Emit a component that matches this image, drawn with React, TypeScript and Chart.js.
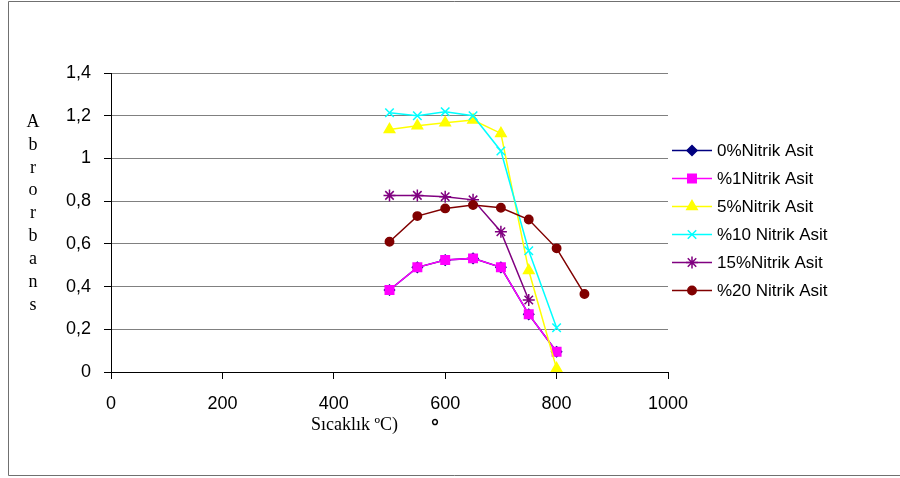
import React, { useEffect, useRef } from 'react';
import { Chart, registerables } from 'chart.js';
import { drawPoint } from 'chart.js/helpers';

Chart.register(...registerables);

const temperatures = [500, 550, 600, 650, 700, 750, 800];
const temperatures15 = [500, 550, 600, 650, 700, 750];
const temperatures20 = [500, 550, 600, 650, 700, 750, 800, 850];

const nitric0 = [0.384, 0.49, 0.524, 0.532, 0.49, 0.27, 0.095];
const nitric1 = [0.384, 0.49, 0.524, 0.532, 0.49, 0.27, 0.095];
const nitric5 = [1.135, 1.153, 1.167, 1.18, 1.117, 0.475, 0.016];
const nitric10 = [1.214, 1.2, 1.219, 1.2, 1.035, 0.568, 0.207];
const nitric15 = [0.827, 0.827, 0.821, 0.806, 0.657, 0.337];
const nitric20 = [0.61, 0.73, 0.766, 0.782, 0.769, 0.714, 0.579, 0.365];

const seriesLabels = [
  '0%Nitrik Asit',
  '%1Nitrik Asit',
  '5%Nitrik Asit',
  '%10 Nitrik Asit',
  '15%Nitrik Asit',
  '%20 Nitrik Asit',
];
const seriesColors = ['#000080', '#FF00FF', '#FFFF00', '#00FFFF', '#800080', '#800000'];
const seriesMarkers = ['rectRot', 'rect', 'triangle', 'crossRot', 'star', 'circle'];

const xTicks = [0, 200, 400, 600, 800, 1000];
const yTicks = [0, 0.2, 0.4, 0.6, 0.8, 1, 1.2, 1.4];
const yTickLabels = ['0', '0,2', '0,4', '0,6', '0,8', '1', '1,2', '1,4'];
const yTitleLetters = ['A', 'b', 'r', 'o', 'r', 'b', 'a', 'n', 's'];
const xTitle = 'Sıcaklık ºC)';
const xTitleExtra = '°';

const SANS = '"Liberation Sans", Arial, sans-serif';
const SERIF = '"Liberation Serif", "Times New Roman", serif';

function toPoints(xs: number[], ys: number[]) {
  return xs.map((x, i) => ({ x, y: ys[i] }));
}

const markerRadius: Record<string, number> = {
  rectRot: 5,
  rect: 6,
  triangle: 6,
  crossRot: 6,
  star: 6,
  circle: 4.2,
};

const decorPlugin = {
  id: 'decor',
  afterDraw(chart: any) {
    const ctx = chart.ctx as CanvasRenderingContext2D;
    ctx.save();
    // outer frame
    ctx.strokeStyle = '#707070';
    ctx.lineWidth = 1;
    ctx.beginPath();
    ctx.moveTo(1000, 1.5);
    ctx.lineTo(8.5, 1.5);
    ctx.lineTo(8.5, 475.5);
    ctx.lineTo(1000, 475.5);
    ctx.stroke();

    // y title, stacked letters
    ctx.fillStyle = '#000';
    ctx.font = `18px ${SERIF}`;
    ctx.textAlign = 'center';
    ctx.textBaseline = 'middle';
    yTitleLetters.forEach((ch, i) => {
      ctx.fillText(ch, 33, 122 + i * 22.9);
    });

    // x title
    ctx.textAlign = 'left';
    ctx.fillText(xTitle, 311, 425);
    ctx.font = `bold 20px ${SANS}`;
    ctx.textAlign = 'center';
    ctx.fillText(xTitleExtra, 435, 427);

    // legend
    ctx.font = `17px ${SANS}`;
    ctx.textAlign = 'left';
    ctx.textBaseline = 'middle';
    chart.data.datasets.forEach((ds: any, i: number) => {
      const y = 150.5 + i * 28;
      ctx.strokeStyle = ds.borderColor;
      ctx.lineWidth = 1.5;
      ctx.beginPath();
      ctx.moveTo(672, y);
      ctx.lineTo(712, y);
      ctx.stroke();
      ctx.fillStyle = ds.pointBackgroundColor;
      ctx.strokeStyle = ds.pointBorderColor;
      ctx.lineWidth = 1.5;
      drawPoint(ctx, { pointStyle: ds.pointStyle, radius: ds.pointRadius, borderWidth: 1.5, rotation: 0 } as any, 692, y);
      ctx.fillStyle = '#000';
      ctx.fillText(ds.label, 717, y + 1);
    });
    ctx.restore();
  },
};

export default function App() {
  const canvasRef = useRef<HTMLCanvasElement | null>(null);

  useEffect(() => {
    const canvas = canvasRef.current;
    if (!canvas) return;
    const xsList = [temperatures, temperatures, temperatures, temperatures, temperatures15, temperatures20];
    const ysList = [nitric0, nitric1, nitric5, nitric10, nitric15, nitric20];
    const datasets = ysList.map((ys, i) => ({
      label: seriesLabels[i],
      data: toPoints(xsList[i], ys),
      borderColor: seriesColors[i],
      backgroundColor: seriesColors[i],
      pointBackgroundColor: seriesColors[i],
      pointBorderColor: seriesColors[i],
      pointStyle: seriesMarkers[i],
      pointRadius: markerRadius[seriesMarkers[i]],
      pointBorderWidth: 1.5,
      borderWidth: 1.5,
      tension: 0,
      fill: false,
      order: ysList.length - i,
    }));

    const chart = new Chart(canvas, {
      type: 'line',
      data: { datasets },
      plugins: [decorPlugin],
      options: {
        responsive: false,
        animation: false,
        devicePixelRatio: 1,
        layout: { padding: { left: 41, right: 232, top: 73, bottom: 66 } },
        plugins: { legend: { display: false }, tooltip: { enabled: false } },
        scales: {
          x: {
            type: 'linear',
            min: 0,
            max: 1000,
            afterBuildTicks: (s: any) => {
              s.ticks = xTicks.map((v) => ({ value: v }));
            },
            afterFit: (s: any) => {
              s.height = 40;
            },
            grid: {
              drawOnChartArea: false,
              drawTicks: true,
              tickLength: 7,
              tickColor: '#000',
              color: '#000',
            },
            border: { color: '#000', width: 1 },
            ticks: {
              padding: 14,
              color: '#000',
              font: { family: SANS, size: 18 },
              maxRotation: 0,
              autoSkip: false,
              callback: (v: any) => String(v),
            },
          },
          y: {
            type: 'linear',
            min: 0,
            max: 1.4,
            afterBuildTicks: (s: any) => {
              s.ticks = yTicks.map((v) => ({ value: v }));
            },
            afterFit: (s: any) => {
              s.width = 70;
            },
            grid: {
              color: '#808080',
              lineWidth: 1,
              drawTicks: true,
              tickLength: 7,
              tickColor: '#000',
            },
            border: { color: '#000', width: 1 },
            ticks: {
              padding: 13,
              color: '#000',
              font: { family: SANS, size: 18 },
              autoSkip: false,
              callback: (v: any) => {
                const idx = yTicks.findIndex((t) => Math.abs(t - Number(v)) < 1e-6);
                return idx >= 0 ? yTickLabels[idx] : '';
              },
            },
          },
        },
      },
    } as any);

    return () => chart.destroy();
  }, []);

  return (
    <div style={{ position: 'absolute', left: 0, top: 0, width: 900, height: 478, background: '#fff' }}>
      <canvas ref={canvasRef} width={900} height={478} style={{ display: 'block', width: 900, height: 478 }} />
    </div>
  );
}
